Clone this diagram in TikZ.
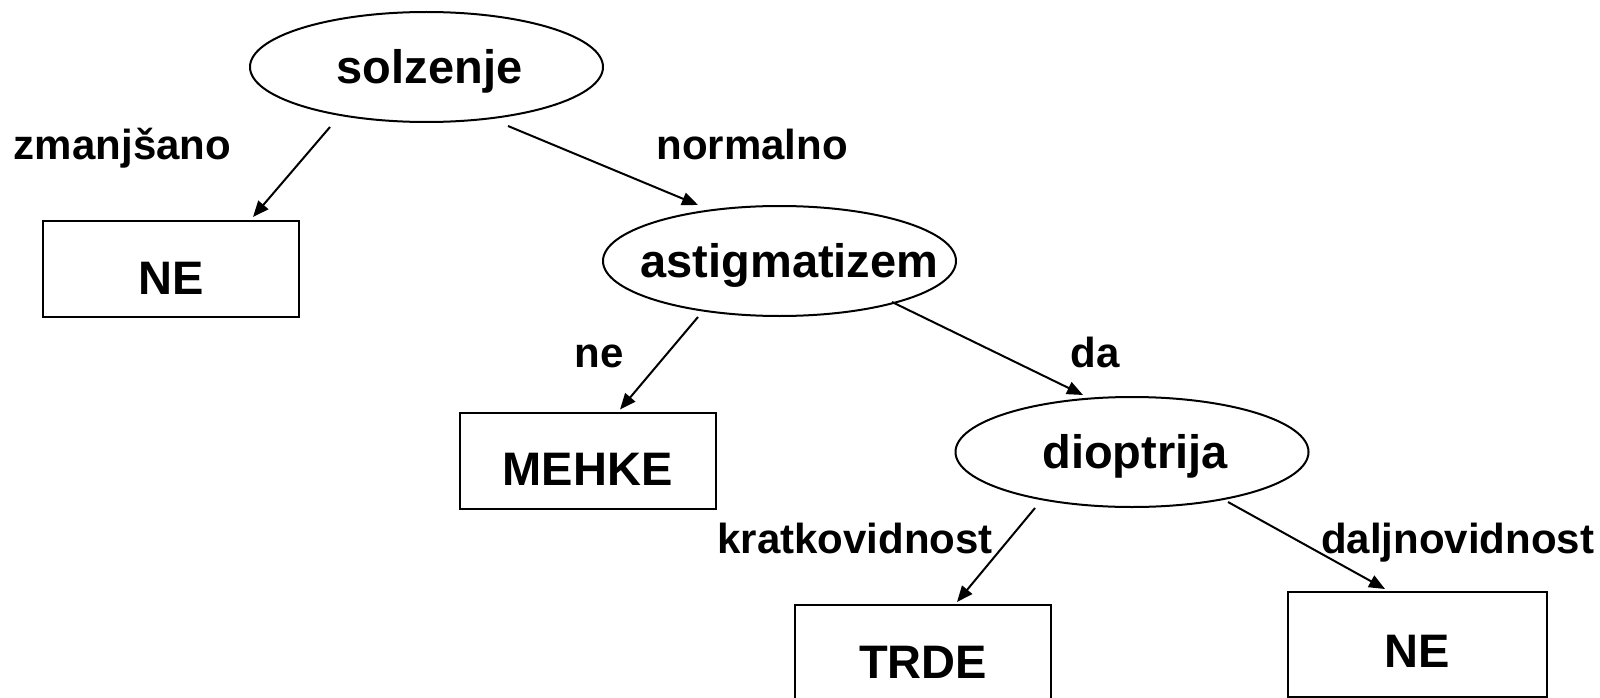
\documentclass[tikz,border=0pt]{standalone}
\usepackage{fontspec}
\setmainfont{Liberation Sans}
\usetikzlibrary{shapes.geometric,arrows.meta}
\begin{document}
\begin{tikzpicture}[x=1pt,y=-1pt,
  attr/.style={ellipse,draw,line width=2pt,minimum width=353pt,minimum height=110pt,
    inner sep=0pt,font=\fontsize{47}{47}\selectfont\bfseries,text height=33pt,text depth=0pt},
  leaf/.style={rectangle,draw,line width=2pt,minimum width=256pt,minimum height=96pt,
    inner sep=0pt,font=\fontsize{47}{47}\selectfont\bfseries,text height=50pt,text depth=0pt},
  val/.style={anchor=base,inner sep=0pt,font=\fontsize{42}{42}\selectfont\bfseries},
  edge/.style={line width=2pt,-{Triangle[length=16pt,width=13pt]}}]

% canvas
\fill[white] (0,0) rectangle (1600,698);
\useasboundingbox (0,0) rectangle (1600,698);

% attribute tests
\node[attr] (solz)  at (426.5,67)  {\makebox[0pt]{\hspace*{6pt}solzenje}};
\node[attr] (astig) at (779.5,261) {\makebox[0pt]{\hspace*{20pt}astigmatizem}};
\node[attr] (diop)  at (1132,452)  {\makebox[0pt]{\hspace*{6pt}dioptrija}};

% leaves
\node[leaf] (ne1)   at (171,269)   {NE};
\node[leaf] (mehke) at (587.5,460.5) {MEHKE};
\node[leaf] (trde)  at (923,653)   {TRDE};
\node[leaf,minimum width=259pt,minimum height=105pt,text height=45pt] (ne2) at (1417.5,644.5) {NE};

% branches
\draw[edge] ([xshift=-96.5pt,yshift=-4pt]solz.south) -- ([xshift=82pt,yshift=3pt]ne1.north);
\draw[edge] ([xshift=81.5pt,yshift=-3pt]solz.south) -- ([xshift=-81.5pt]astig.north);
\draw[edge] ([xshift=-81.5pt]astig.south) -- ([xshift=32.5pt,yshift=2pt]mehke.north);
\draw[edge] ([xshift=112.5pt,yshift=15pt]astig.south) -- ([xshift=-49pt,yshift=1pt]diop.north);
\draw[edge] ([xshift=-97pt]diop.south) -- ([xshift=34pt,yshift=2pt]trde.north);
\draw[edge] ([xshift=96pt,yshift=6pt]diop.south) -- ([xshift=-32.5pt,yshift=2pt]ne2.north);

% branch values
\node[val] (lzm) at (122.5,160) {zmanjšano};
\node[val] (lno) at (752,160)   {normalno};
\node[val] (lne) at (599,367)   {ne};
\node[val] (lda) at (1095,367)  {da};
\node[val] (lkr) at (855,553)   {kratkovidnost};
\node[val] (ldj) at (1457.5,553) {daljnovidnost};
\end{tikzpicture}
\end{document}
